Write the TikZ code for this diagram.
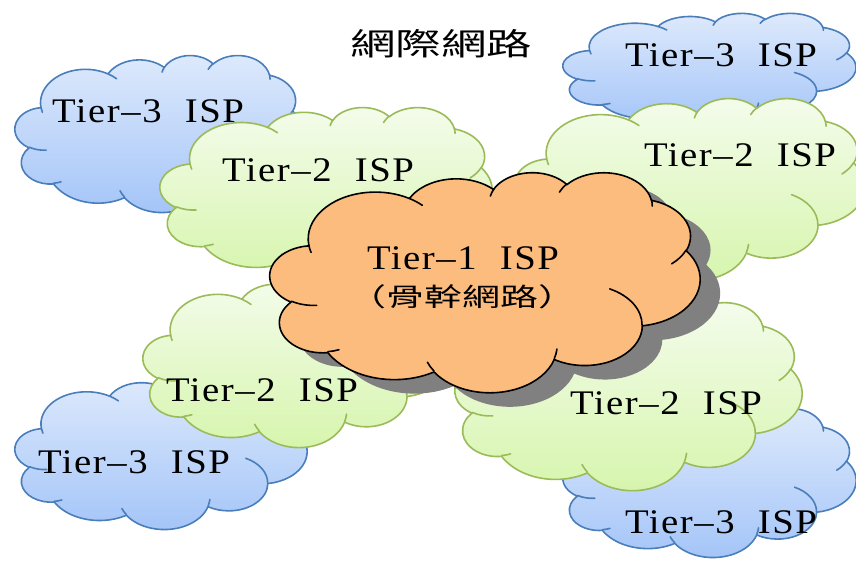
\documentclass[tikz,border=0pt]{standalone}
\usepackage{fontspec}
\usepackage{graphicx}
\newfontfamily\latinfont{Liberation Serif}[LetterSpace=4]
\newfontfamily\cjkfont{Noto Sans CJK TC}
\definecolor{bluetop}{RGB}{222,234,252}
\definecolor{bluebot}{RGB}{163,196,248}
\definecolor{blueline}{RGB}{74,126,187}
\definecolor{greentop}{RGB}{244,252,236}
\definecolor{greenbot}{RGB}{214,245,172}
\definecolor{greenline}{RGB}{155,187,89}
\definecolor{orangefill}{RGB}{252,188,126}
\definecolor{shadowgray}{RGB}{128,128,128}
\newcommand\ispfit[1]{\resizebox{192pt}{\height}{\latinfont\fontsize{34.5pt}{36pt}\selectfont #1}}
\newcommand\cjkfit[3]{\resizebox{#1}{\height}{\cjkfont\fontsize{#2}{#2}\selectfont #3}}
% Office-style cloud arcs: visual angles converted to parametric ones
\newcommand\calcarc[5]{%
  \pgfmathsetmacro\tmpa{atan2((#2)*sin(#4),(#3)*cos(#4))}%
  \pgfmathsetmacro\tmpe{atan2((#2)*sin((#4)+(#5)),(#3)*cos((#4)+(#5)))}%
  \pgfmathsetmacro\tmpd{\tmpe-(\tmpa)}%
  \pgfmathsetmacro\tmpd{(#5)>0 ? ((\tmpd)<0 ? (\tmpd)+360 : (\tmpd)) : ((\tmpd)>0 ? (\tmpd)-360 : (\tmpd))}%
  \expandafter\xdef\csname arcS#1\endcsname{\tmpa}%
  \expandafter\xdef\csname arcD#1\endcsname{\tmpd}%
}
\newcommand\AS[1]{\csname arcS#1\endcsname}
\newcommand\AD[1]{\csname arcD#1\endcsname}
\calcarc{1}{67.53}{91.90}{-190.48748}{123.78053}
\calcarc{2}{53.33}{72.67}{-144.10238}{89.94523}
\calcarc{3}{43.65}{59.45}{-145.80792}{99.72302}
\calcarc{4}{48.57}{65.95}{-130.98607}{117.24173}
\calcarc{5}{53.33}{72.73}{-78.70888}{109.02692}
\calcarc{6}{67.75}{92.20}{-46.26725}{130.269}
\calcarc{7}{57.85}{78.67}{0.62502}{114.03333}
\calcarc{8}{67.52}{92.15}{22.4516}{115.17255}
\calcarc{9}{77.20}{105.43}{66.24263}{75.71102}
\calcarc{10}{43.60}{59.18}{-274.94208}{146.73557}
\calcarc{11}{43.45}{59.45}{-246.8285}{152.51885}
\calcarc{c1}{43.45}{59.45}{86.742}{26.4295}
\calcarc{c2}{43.60}{59.18}{73.61047}{11.44747}
\calcarc{c3}{67.52}{92.15}{137.62415}{14.0811}
\calcarc{c4}{67.52}{92.15}{6.45327}{15.99835}
\calcarc{c5}{57.85}{78.67}{-70.29235}{70.91737}
\calcarc{c6}{53.33}{72.73}{30.31803}{27.7515}
\calcarc{c7}{48.57}{65.95}{-13.74433}{14.8589}
\calcarc{c8}{48.57}{65.95}{-149.18145}{18.19537}
\calcarc{c9}{43.65}{59.45}{-163.49427}{17.68635}
\calcarc{c10}{67.53}{91.90}{-66.70695}{12.31935}
\calcarc{c11}{67.53}{91.90}{157.65435}{11.85817}
\newcommand\oa[3]{arc[x radius=#2, y radius=#3, start angle=\AS{#1}, delta angle=\AD{#1}]}
\def\cloudoutline{(39.00,143.70)
  \oa{1}{67.53}{91.90} \oa{2}{53.33}{72.67} \oa{3}{43.65}{59.45}
  \oa{4}{48.57}{65.95} \oa{5}{53.33}{72.73} \oa{6}{67.75}{92.20}
  \oa{7}{57.85}{78.67} \oa{8}{67.52}{92.15} \oa{9}{77.20}{105.43}
  \oa{10}{43.60}{59.18} \oa{11}{43.45}{59.45} -- cycle}
\def\cloudcreases{
  (46.93,261.77) \oa{c1}{43.45}{59.45}
  (69.28,348.99) \oa{c2}{43.60}{59.18}
  (164.78,390.90) \oa{c3}{67.52}{92.15}
  (288.27,347.51) \oa{c4}{67.52}{92.15}
  (341.29,229.54) \oa{c5}{57.85}{78.67}
  (417.98,153.54) \oa{c6}{53.33}{72.73}
  (383.24,54.26) \oa{c7}{48.57}{65.95}
  (290.78,39.52) \oa{c8}{48.57}{65.95}
  (221.41,47.20) \oa{c9}{43.65}{59.45}
  (140.00,51.92) \oa{c10}{67.53}{91.90}
  (41.27,157.89) \oa{c11}{67.53}{91.90}}
% #1 fill style, #2 line colour, #3 left, #4 top, #5 width, #6 height
\newcommand\ocloud[6]{%
  \pgfmathsetmacro\cw{#5/432}\pgfmathsetmacro\ch{#6/432}%
  \begin{scope}[shift={(#3,#4)}, x=\cw pt, y=-\ch pt]
    \path[#1, draw=#2, line width=1.6pt, line join=round] \cloudoutline;
    \path[draw=#2, line width=1.6pt, line cap=round] \cloudcreases;
  \end{scope}}
\newcommand\oshadow[4]{%
  \pgfmathsetmacro\cw{#3/432}\pgfmathsetmacro\ch{#4/432}%
  \begin{scope}[shift={(#1,#2)}, x=\cw pt, y=-\ch pt]
    \path[fill=shadowgray] \cloudoutline;
  \end{scope}}
\tikzset{
  bluefill/.style={top color=bluetop, bottom color=bluebot},
  greenfill/.style={top color=greentop, bottom color=greenbot},
  orangestyle/.style={fill=orangefill},
  label/.style={inner sep=0pt, text=black}
}
\begin{document}
\begin{tikzpicture}[x=1pt,y=-1pt]
\useasboundingbox (0,0) rectangle (856,562);
% Tier-3 clouds
\ocloud{bluefill}{blueline}{15}{55}{287}{157}
\ocloud{bluefill}{blueline}{563}{13}{293}{112}
\ocloud{bluefill}{blueline}{15}{378}{292}{151}
\ocloud{bluefill}{blueline}{563}{408}{293}{149}
% Tier-2 clouds
\ocloud{greenfill}{greenline}{160}{107}{332}{170}
\ocloud{greenfill}{greenline}{515}{98}{350}{182}
\ocloud{greenfill}{greenline}{143}{279}{305}{168}
\ocloud{greenfill}{greenline}{455}{302}{347}{188}
% Tier-1 cloud with shadow
\oshadow{290}{186}{430}{220}
\ocloud{orangestyle}{black}{270}{172}{430}{220}
% texts
\node[label] (title) at (441,44) {\cjkfit{182pt}{31pt}{網際網路}};
\node[label] (t3a) at (148,111) {\ispfit{Tier–3\hspace{.6em}ISP}};
\node[label] (t3b) at (721,55) {\ispfit{Tier–3\hspace{.6em}ISP}};
\node[label] (t3c) at (134,462) {\ispfit{Tier–3\hspace{.6em}ISP}};
\node[label] (t3d) at (721,522) {\ispfit{Tier–3\hspace{.6em}ISP}};
\node[label] (t2a) at (318,170) {\ispfit{Tier–2\hspace{.6em}ISP}};
\node[label] (t2b) at (740,155) {\ispfit{Tier–2\hspace{.6em}ISP}};
\node[label] (t2c) at (262,390) {\ispfit{Tier–2\hspace{.6em}ISP}};
\node[label] (t2d) at (666,403) {\ispfit{Tier–2\hspace{.6em}ISP}};
\node[label] (t1) at (463,258) {\ispfit{Tier–1\hspace{.6em}ISP}};
\node[label] (t1b) at (462,297) {\cjkfit{228pt}{25.5pt}{（骨幹網路）}};
\end{tikzpicture}
\end{document}
